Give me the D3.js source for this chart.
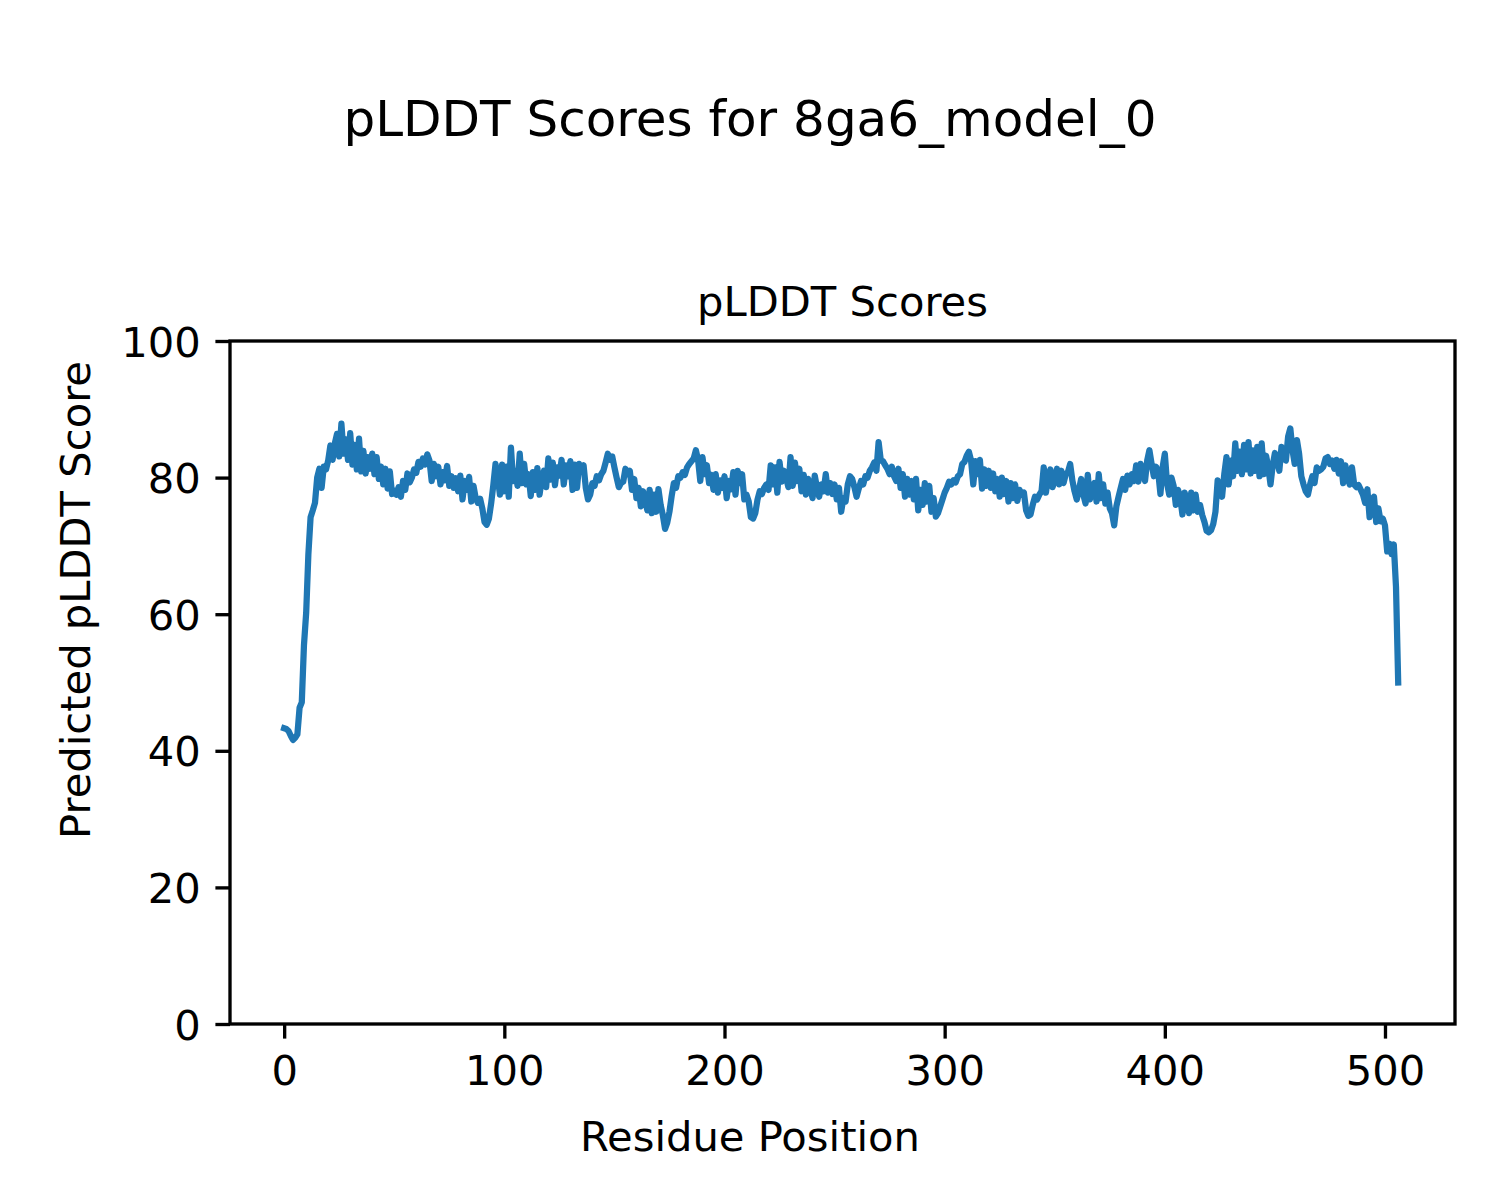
<!DOCTYPE html>
<html>
<head>
<meta charset="utf-8">
<script src="https://cdn.jsdelivr.net/npm/d3@7"></script>
<style>
  html, body { margin: 0; padding: 0; background: #fff; }
  svg text { font-family: "DejaVu Sans", sans-serif; fill: #000; }
</style>
</head>
<body>
<svg id="chart" width="1500" height="1200"></svg>
<script>
const figTitle = "pLDDT Scores for 8ga6_model_0";
const axTitle = "pLDDT Scores";
const xLabel = "Residue Position";
const yLabel = "Predicted pLDDT Score";
const xTicks = [0, 100, 200, 300, 400, 500];
const yTicks = [0, 20, 40, 60, 80, 100];
const plddt = [
  43.3, 43.2, 42.9, 42.2, 41.6, 41.9, 42.4, 46.3, 47.1, 55.5, 60.2, 68.8, 74.2, 75.2, 76.3, 80.0, 81.3, 78.5, 81.6, 81.2,
  82.5, 84.7, 82.6, 85.0, 86.4, 83.1, 87.9, 83.5, 85.6, 82.6, 86.5, 81.9, 84.8, 81.2, 85.7, 80.9, 83.9, 80.6, 83.0, 81.3,
  83.5, 80.5, 83.0, 79.8, 81.6, 79.0, 81.3, 78.4, 80.9, 77.6, 78.1, 77.5, 78.6, 77.2, 79.5, 78.2, 80.6, 79.3, 80.0, 81.2,
  80.7, 82.3, 81.6, 82.8, 81.9, 83.4, 82.5, 79.5, 82.0, 80.2, 81.6, 79.0, 80.8, 79.6, 81.7, 78.8, 80.2, 78.5, 79.9, 78.0,
  80.3, 76.8, 79.5, 78.2, 80.1, 76.5, 78.8, 77.0, 76.3, 76.9, 75.5, 73.5, 73.1, 74.0, 76.2, 78.9, 82.0, 80.1, 77.5, 81.9,
  78.0, 81.6, 77.2, 84.4, 79.5, 81.0, 78.8, 83.5, 79.2, 82.0, 79.0, 80.5, 77.3, 80.8, 78.2, 81.4, 77.5, 79.8, 81.0, 78.6,
  82.8, 79.7, 82.2, 78.9, 81.5, 80.3, 82.6, 79.0, 81.8, 80.2, 82.4, 78.2, 81.9, 78.5, 82.0, 81.3, 81.8, 78.5, 76.8, 77.5,
  79.2, 78.8, 80.2, 79.6, 80.5, 81.0, 82.2, 83.5, 82.6, 83.1, 81.5, 80.0, 78.6, 79.2, 79.4, 81.3, 80.5, 81.0, 78.2, 79.8,
  77.0, 78.5, 75.8, 78.0, 76.5, 75.2, 78.2, 74.8, 77.5, 75.0, 78.3, 76.0, 74.5, 72.5, 73.4, 75.0, 77.3, 79.2, 78.5, 80.2,
  80.0, 80.8, 80.4, 81.5, 82.0, 82.4, 82.8, 84.0, 82.6, 79.5, 83.0, 80.5, 81.8, 79.2, 80.4, 78.2, 80.5, 77.8, 79.6, 78.5,
  80.2, 77.0, 79.5, 78.3, 80.8, 77.5, 81.0, 79.2, 80.5, 76.8, 77.5, 76.5, 74.2, 74.0, 74.8, 76.8, 78.0, 77.6, 78.5, 79.0,
  78.2, 81.8, 79.0, 81.5, 77.8, 82.3, 79.4, 81.0, 80.0, 78.6, 83.0, 78.8, 82.2, 79.5, 81.3, 78.0, 80.4, 77.5, 79.8, 78.4,
  77.0, 80.3, 78.5, 77.2, 79.0, 78.0, 80.5, 77.8, 79.2, 77.6, 79.0, 76.8, 78.5, 75.0, 77.0, 76.5, 79.0, 80.2, 79.8, 78.6,
  77.2, 78.4, 79.5, 79.0, 80.2, 80.0, 81.0, 81.5, 82.2, 81.0, 85.2, 82.5, 82.4, 81.8, 81.3, 80.5, 81.6, 80.2, 79.5, 81.3,
  78.5, 80.5, 77.2, 79.8, 77.5, 79.5, 76.8, 79.8, 75.2, 78.2, 76.0, 79.2, 76.5, 78.8, 75.0, 77.0, 74.3, 74.8, 75.8, 76.8,
  77.8, 78.5, 79.4, 79.0, 79.6, 79.3, 80.2, 80.5, 82.0, 82.3, 83.2, 83.8, 82.5, 79.0, 82.4, 80.5, 82.6, 78.4, 81.2, 78.8,
  81.0, 78.5, 80.6, 78.0, 79.8, 77.2, 80.0, 77.6, 79.5, 76.5, 79.2, 77.0, 79.0, 76.6, 78.2, 77.5, 77.8, 75.2, 74.4, 74.6,
  76.0, 77.2, 76.8, 77.5, 78.0, 81.5, 77.8, 80.2, 81.2, 78.6, 79.5, 81.3, 79.0, 81.0, 79.2, 80.5, 80.8, 82.0, 79.6, 78.0,
  76.8, 78.2, 79.8, 77.5, 76.2, 80.4, 76.8, 78.5, 79.2, 76.5, 80.5, 77.0, 79.0, 76.2, 77.8, 75.5, 74.8, 73.0, 75.8, 77.2,
  78.5, 79.8, 78.2, 80.3, 79.0, 80.5, 79.5, 81.8, 79.4, 82.0, 81.2, 79.5, 82.5, 84.0, 82.0, 80.2, 81.6, 80.8, 77.6, 81.5,
  83.5, 79.2, 77.5, 80.0, 78.8, 76.0, 78.2, 77.0, 74.6, 77.8, 76.5, 74.8, 77.8, 75.2, 77.5, 75.0, 76.0, 74.5, 73.5, 72.2,
  72.0, 72.3, 73.2, 75.0, 79.6, 78.0, 77.2, 80.5, 83.0, 79.0, 82.5, 80.2, 85.0, 81.0, 83.8, 80.5, 84.8, 81.2, 85.2, 80.6,
  84.0, 81.0, 84.5, 80.2, 85.0, 80.5, 83.2, 81.5, 79.0, 81.8, 83.6, 82.5, 81.0, 84.5, 82.8, 82.5, 86.0, 87.2, 84.0, 82.0,
  85.5, 83.5, 80.2, 79.0, 78.0, 77.5, 79.0, 80.2, 79.2, 81.5, 81.0, 81.2, 81.6, 82.8, 83.0, 82.0, 82.5, 81.3, 82.6, 80.6,
  82.4, 79.2, 81.8, 80.0, 79.0, 81.5, 79.0, 78.6, 78.9, 78.2, 77.5, 76.3, 78.3, 74.2, 76.8, 77.2, 73.5, 75.5, 73.6, 74.0,
  73.0, 69.2, 70.3, 68.8, 70.2, 64.0, 50.0
];
const residues = plddt.map((_, i) => i);

const svg = d3.select("#chart");
const mLeft = 230, mRight = 1455, mTop = 341, mBottom = 1024;
const x = d3.scaleLinear().domain([-24.6, 531.8]).range([mLeft, mRight]);
const y = d3.scaleLinear().domain([0, 100]).range([mBottom, mTop]);
const fs = 41.67;

// line
const line = d3.line().x((d, i) => x(residues[i])).y(d => y(d));
svg.append("path")
  .datum(plddt)
  .attr("d", line)
  .attr("fill", "none")
  .attr("stroke", "#1f77b4")
  .attr("stroke-width", 6.25)
  .attr("stroke-linejoin", "round")
  .attr("stroke-linecap", "square");

// axes
const xAxis = d3.axisBottom(x).tickValues(xTicks).tickSize(14.6).tickPadding(14.6).tickFormat(d3.format("d"));
const yAxis = d3.axisLeft(y).tickValues(yTicks).tickSize(14.6).tickPadding(14.6).tickFormat(d3.format("d"));

const gx = svg.append("g").attr("transform", `translate(0,${mBottom})`).call(xAxis);
const gy = svg.append("g").attr("transform", `translate(${mLeft},0)`).call(yAxis);
[gx, gy].forEach(g => {
  g.select(".domain").remove();
  g.selectAll(".tick line").attr("stroke", "#000").attr("stroke-width", 3.33);
  g.selectAll(".tick text").attr("font-size", fs).attr("font-family", "DejaVu Sans").attr("fill", "#000");
});
gx.selectAll(".tick text").attr("dy", null).attr("y", 61);
gy.selectAll(".tick text").attr("dy", "0.36em");

// frame
svg.append("rect")
  .attr("x", mLeft).attr("y", mTop)
  .attr("width", mRight - mLeft).attr("height", mBottom - mTop)
  .attr("fill", "none").attr("stroke", "#000").attr("stroke-width", 3.33);

// titles
svg.append("text").attr("x", 750).attr("y", 136)
  .attr("text-anchor", "middle").attr("font-size", 50).text(figTitle);
svg.append("text").attr("x", (mLeft + mRight) / 2).attr("y", 316)
  .attr("text-anchor", "middle").attr("font-size", fs).text(axTitle);
svg.append("text").attr("x", 750).attr("y", 1151)
  .attr("text-anchor", "middle").attr("font-size", fs).text(xLabel);
svg.append("text").attr("transform", "translate(90,600) rotate(-90)")
  .attr("text-anchor", "middle").attr("font-size", fs).text(yLabel);
</script>
</body>
</html>
